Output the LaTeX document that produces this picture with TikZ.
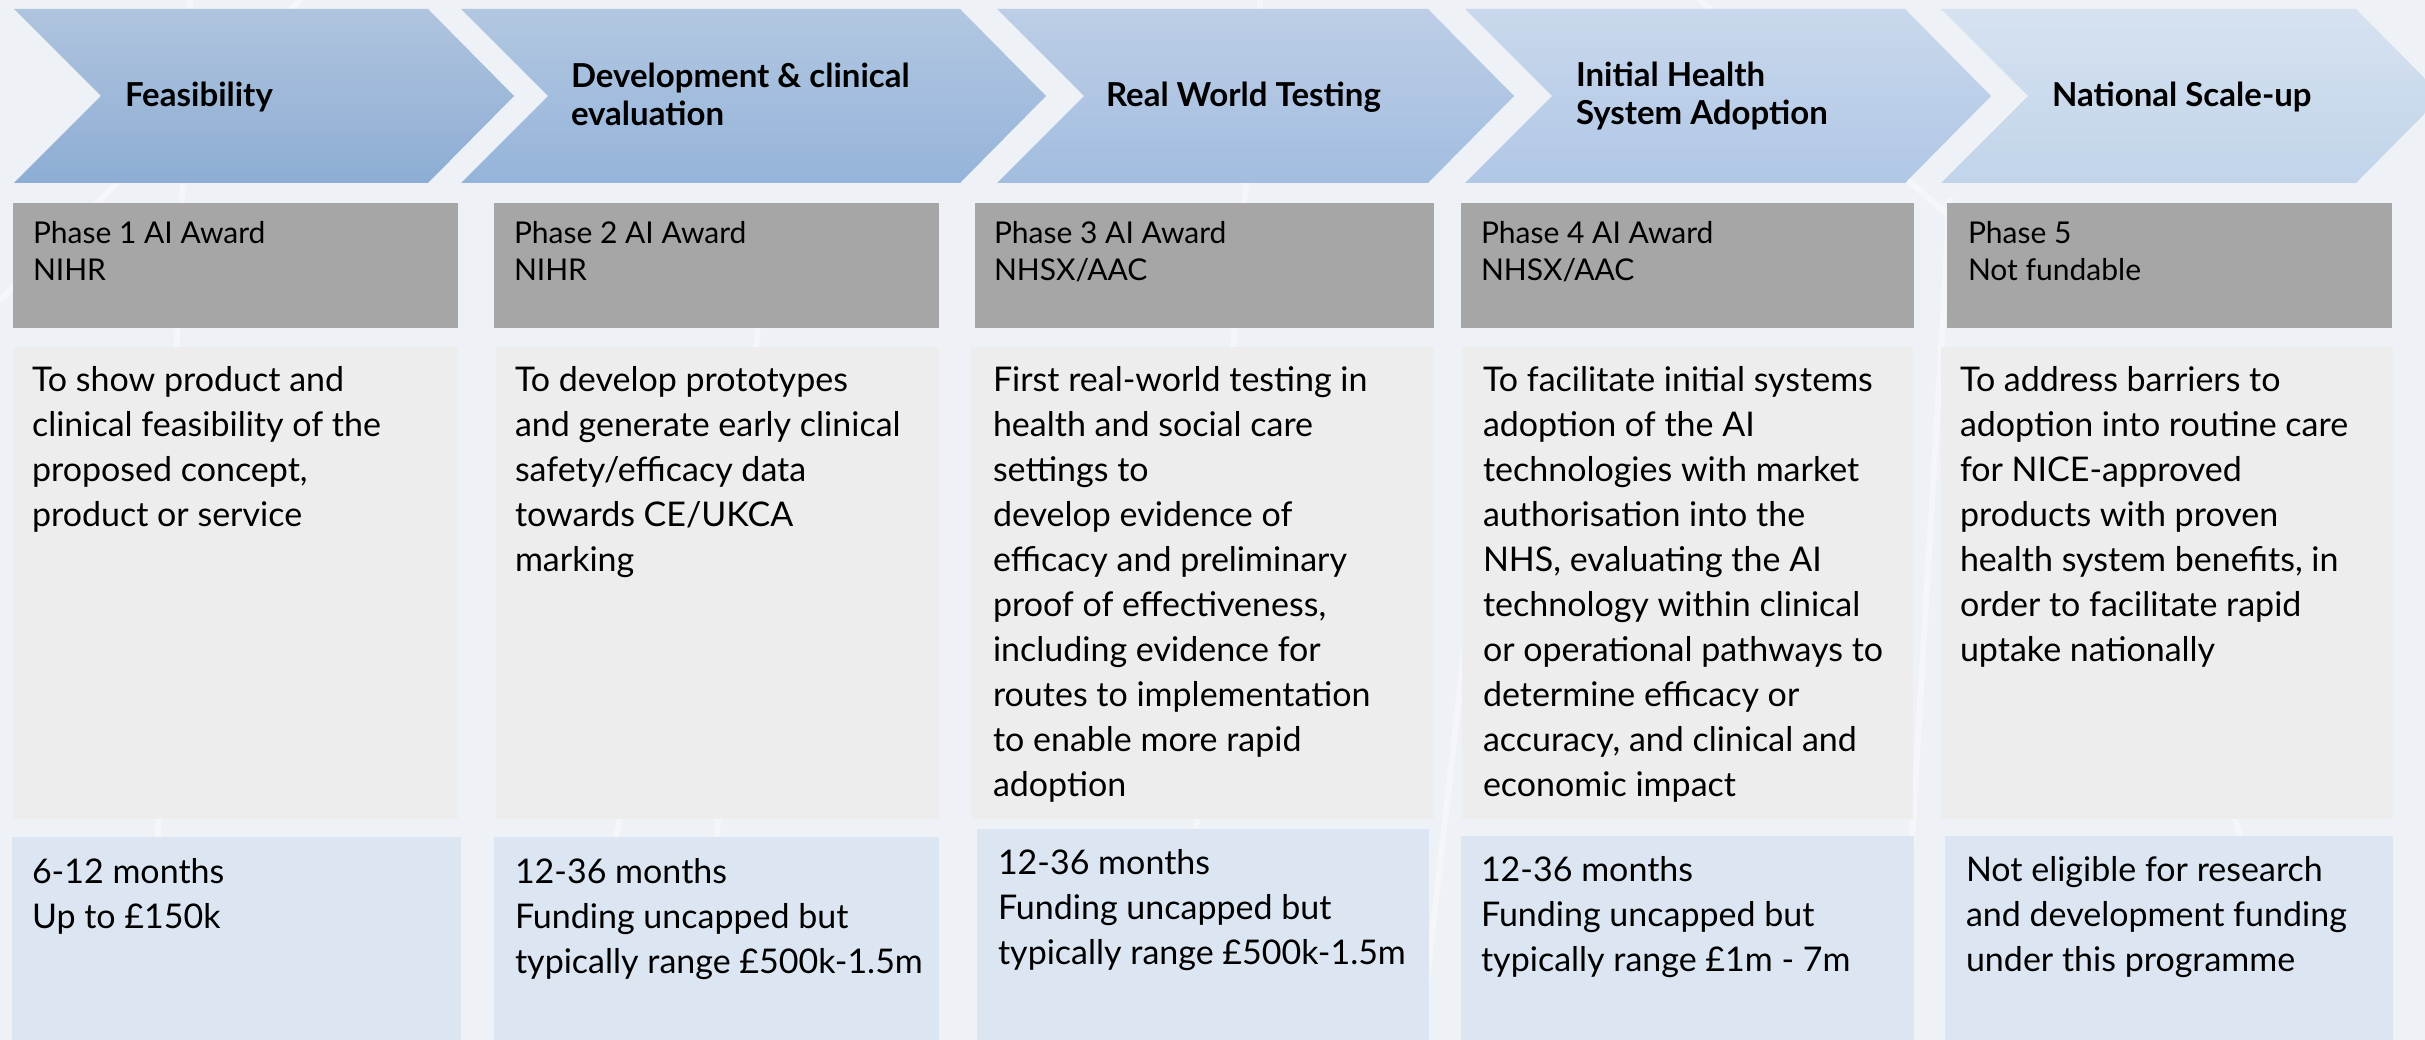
\documentclass[tikz,border=0pt]{standalone}
\usepackage{fontspec}
\setmainfont{Lato}
\definecolor{bgc}{HTML}{EEF1F6}
\definecolor{hdrc}{HTML}{A6A6A6}
\definecolor{bodyc}{HTML}{EDEDED}
\definecolor{bluec}{HTML}{DCE6F2}
\definecolor{aAt}{HTML}{AFC4DE}\definecolor{aAb}{HTML}{8DADD4}
\definecolor{aBt}{HTML}{B2C7E1}\definecolor{aBb}{HTML}{95B4DA}
\definecolor{aCt}{HTML}{BDCEE6}\definecolor{aCb}{HTML}{A2BDE0}
\definecolor{aDt}{HTML}{C9D8EC}\definecolor{aDb}{HTML}{B0C7E6}
\definecolor{aEt}{HTML}{D6E2F0}\definecolor{aEb}{HTML}{C1D4EA}
\newcommand\bodystrut{\rule{0pt}{28pt}}
\newcommand\hdrstrut{\rule{0pt}{25pt}}
\newcommand\ttlstrut{\rule{0pt}{27pt}}
\tikzset{
  txt/.style={anchor=north west, inner sep=0pt, outer sep=0pt, align=left, text=black},
  bodytxt/.style={txt, font=\fontsize{34}{45}\selectfont},
  hdrtxt/.style={txt, font=\fontsize{30}{37}\selectfont},
  ttltxt/.style={txt, font=\fontsize{33}{38}\selectfont\bfseries},
  streak/.style={white, line width=6pt, opacity=0.4, line cap=round},
}
\begin{document}
\begin{tikzpicture}[x=1pt,y=-1pt]
\useasboundingbox (0,0) rectangle (2425,1040);
\clip (0,0) rectangle (2425,1040);
% background
\fill[bgc] (0,0) rectangle (2425,1040);
\draw[streak] (150,1040) -- (190,0);
\draw[streak] (700,1040) -- (760,300);
\draw[streak] (560,1040) -- (620,820);
\draw[streak] (1180,1040) -- (1260,0);
\draw[streak] (1420,1040) -- (1470,600);
\draw[streak] (1900,1040) -- (1950,200);
\draw[streak] (2300,1040) -- (2200,700);
\draw[streak] (0,300) -- (300,0);
\draw[streak] (1700,0) -- (2000,260);
% chevrons
\shade[top color=aAt, bottom color=aAb] (14,9) -- (428,9) -- (514,96) -- (428,183) -- (14,183) -- (101,96) -- cycle;
\shade[top color=aBt, bottom color=aBb] (461,9) -- (960,9) -- (1046,96) -- (960,183) -- (461,183) -- (548,96) -- cycle;
\shade[top color=aCt, bottom color=aCb] (997,9) -- (1428,9) -- (1514,96) -- (1428,183) -- (997,183) -- (1084,96) -- cycle;
\shade[top color=aDt, bottom color=aDb] (1465,9) -- (1905,9) -- (1991,96) -- (1905,183) -- (1465,183) -- (1552,96) -- cycle;
\shade[top color=aEt, bottom color=aEb] (1941,9) -- (2356,9) -- (2442,96) -- (2356,183) -- (1941,183) -- (2028,96) -- cycle;
\node[ttltxt] (t1) at (125,80) {\ttlstrut Feasibility};
\node[ttltxt] (t2) at (571,61) {\ttlstrut Development \& clinical\\evaluation};
\node[ttltxt] (t3) at (1106,80) {\ttlstrut Real World Testing};
\node[ttltxt] (t4) at (1576,60) {\ttlstrut Initial Health\\System Adoption};
\node[ttltxt] (t5) at (2052,80) {\ttlstrut National Scale-up};
% header boxes
\fill[hdrc] (13,203) rectangle (458,328);
\fill[hdrc] (494,203) rectangle (939,328);
\fill[hdrc] (975,203) rectangle (1434,328);
\fill[hdrc] (1461,203) rectangle (1914,328);
\fill[hdrc] (1947,203) rectangle (2392,328);
\node[hdrtxt] (h1) at (33,219) {\hdrstrut Phase 1 AI Award\\NIHR};
\node[hdrtxt] (h2) at (514,219) {\hdrstrut Phase 2 AI Award\\NIHR};
\node[hdrtxt] (h3) at (994,219) {\hdrstrut Phase 3 AI Award\\NHSX/AAC};
\node[hdrtxt] (h4) at (1481,219) {\hdrstrut Phase 4 AI Award\\NHSX/AAC};
\node[hdrtxt] (h5) at (1968,219) {\hdrstrut Phase 5\\Not fundable};
% body boxes
\fill[bodyc] (13,347) rectangle (458,819);
\fill[bodyc] (496,347) rectangle (939,819);
\fill[bodyc] (971,347) rectangle (1434,819);
\fill[bodyc] (1462,347) rectangle (1913,819);
\fill[bodyc] (1941,347) rectangle (2393,819);
\node[bodytxt] (b1) at (32,363) {\bodystrut To show product and\\clinical feasibility of the\\proposed concept,\\product or service};
\node[bodytxt] (b2) at (515,363) {\bodystrut To develop prototypes\\and generate early clinical\\safety/efficacy data\\towards CE/UKCA\\marking};
\node[bodytxt] (b3) at (993,363) {\bodystrut First real-world testing in\\health and social care\\settings to\\develop evidence of\\efficacy and preliminary\\proof of effectiveness,\\including evidence for\\routes to implementation\\to enable more rapid\\adoption};
\node[bodytxt] (b4) at (1483,363) {\bodystrut To facilitate initial systems\\adoption of the AI\\technologies with market\\authorisation into the\\NHS, evaluating the AI\\technology within clinical\\or operational pathways to\\determine efficacy or\\accuracy, and clinical and\\economic impact};
\node[bodytxt] (b5) at (1960,363) {\bodystrut To address barriers to\\adoption into routine care\\for NICE-approved\\products with proven\\health system benefits, in\\order to facilitate rapid\\uptake nationally};
% blue boxes
\fill[bluec] (12,837) rectangle (461,1045);
\fill[bluec] (494,837) rectangle (939,1045);
\fill[bluec] (977,829) rectangle (1429,1045);
\fill[bluec] (1461,836) rectangle (1914,1045);
\fill[bluec] (1945,836) rectangle (2393,1045);
\node[bodytxt] (f1) at (32,855) {\bodystrut 6-12 months\\Up to £150k};
\node[bodytxt] (f2) at (515,855) {\bodystrut 12-36 months\\Funding uncapped but\\typically range £500k-1.5m};
\node[bodytxt] (f3) at (998,846) {\bodystrut 12-36 months\\Funding uncapped but\\typically range £500k-1.5m};
\node[bodytxt] (f4) at (1481,853) {\bodystrut 12-36 months\\Funding uncapped but\\typically range £1m - 7m};
\node[bodytxt] (f5) at (1966,853) {\bodystrut Not eligible for research\\and development funding\\under this programme};
\end{tikzpicture}
\end{document}
